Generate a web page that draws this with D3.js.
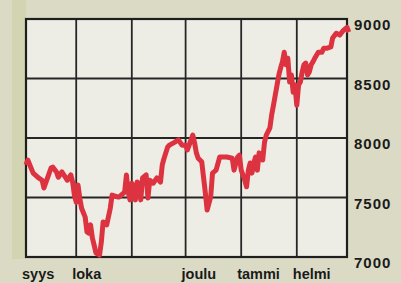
<!DOCTYPE html>
<html>
<head>
<meta charset="utf-8">
<script src="https://cdn.jsdelivr.net/npm/d3@7.9.0/dist/d3.min.js"></script>
<style>
  html, body { margin: 0; padding: 0; background: #dbdac5; }
  svg { display: block; }
  text { font-family: "Liberation Sans", Arial, sans-serif; font-weight: bold; fill: #1a1a1a; }
</style>
</head>
<body>
<svg width="401" height="283"></svg>
<script>
// index, daily close (days counted from 1 Sep)
const startDate = new Date(1997, 8, 1);
const days = [
  2, 3, 6, 9, 11, 12, 14, 16, 17, 19, 20, 22, 24, 25, 27, 28, 29, 30, 31, 32,
  33, 35, 36, 37, 38, 39, 40, 41, 43, 44, 45, 47, 49, 50, 53, 54, 57, 58, 59, 60,
  61, 62, 63, 64, 65, 66, 67, 69, 70, 71, 73, 75, 77, 78, 79, 81, 82, 85, 87, 89,
  91, 92, 95, 96, 97, 98, 100, 101, 102, 103, 105, 106, 108, 110, 114, 117, 118, 120, 121, 122,
  124, 125, 126, 127, 128, 129, 130, 131, 132, 134, 135, 136, 138, 139, 140, 141, 142, 143, 144, 145,
  146, 147, 148, 149, 150, 151, 152, 153, 154, 155, 156, 157, 158, 159, 160, 161, 162, 163, 165, 167,
  168, 170, 172, 173, 175, 177, 179, 181, 182
];
const values = [
  7775, 7815, 7705, 7665, 7645, 7580, 7665, 7750, 7755, 7715, 7670, 7715, 7670, 7645, 7690, 7630, 7520, 7460, 7605, 7495,
  7410, 7335, 7210, 7200, 7270, 7160, 7100, 7035, 7015, 7125, 7295, 7270, 7410, 7520, 7505, 7505, 7545, 7690, 7545, 7480,
  7620, 7590, 7480, 7630, 7620, 7480, 7665, 7690, 7495, 7645, 7620, 7665, 7630, 7775, 7830, 7925, 7940, 7965, 7985, 7940,
  7940, 7900, 8025, 7960, 7875, 7830, 7800, 7670, 7540, 7395, 7505, 7705, 7730, 7840, 7840, 7830, 7730, 7840, 7855, 7730,
  7645, 7590, 7730, 7790, 7705, 7790, 7840, 7730, 7875, 7815, 7965, 8025, 8085, 8195, 8275, 8360, 8445, 8530, 8590, 8640,
  8720, 8615, 8670, 8470, 8530, 8385, 8445, 8275, 8445, 8470, 8555, 8615, 8630, 8530, 8555, 8615, 8640, 8670, 8720, 8720,
  8755, 8755, 8765, 8840, 8880, 8865, 8905, 8930, 8890
];
const monthLabels = ["syys", "loka", "", "joulu", "tammi", "helmi"];
const yTicks = [7000, 7500, 8000, 8500, 9000];

const data = days.map((d, i) => ({ date: d3.timeDay.offset(startDate, d), value: values[i] }));

const svg = d3.select("svg");

const x = d3.scaleTime()
  .domain([d3.timeDay.offset(startDate, 2), new Date(1998, 2, 1)])
  .range([26, 347]);
const y = d3.scaleLinear().domain([7000, 9000]).range([257, 19]);

const [x0, x1] = x.range();
const [y0, y1] = y.range();

// paper edge band on the left
svg.append("rect")
  .attr("x", 12).attr("y", 0)
  .attr("width", x0 - 12).attr("height", y0 + 2)
  .attr("fill", "#d3d4b1");

// panel
svg.append("rect")
  .attr("x", x0).attr("y", y1)
  .attr("width", x1 - x0).attr("height", y0 - y1)
  .attr("fill", "#eeede5");

// grid
const monthStarts = d3.timeMonth.range(new Date(1997, 9, 1), new Date(1998, 1, 2));
svg.append("g")
  .selectAll("line")
  .data(monthStarts)
  .join("line")
  .attr("x1", d => x(d)).attr("x2", d => x(d))
  .attr("y1", y1).attr("y2", y0)
  .attr("stroke", "#262626").attr("stroke-width", 1.8);

svg.append("g")
  .selectAll("line")
  .data(yTicks.slice(1, -1))
  .join("line")
  .attr("x1", x0).attr("x2", x1)
  .attr("y1", d => y(d)).attr("y2", d => y(d))
  .attr("stroke", "#262626").attr("stroke-width", 1.8);

svg.append("rect")
  .attr("x", x0).attr("y", y1)
  .attr("width", x1 - x0).attr("height", y0 - y1)
  .attr("fill", "none")
  .attr("stroke", "#1e1e1e").attr("stroke-width", 2.2);

// line
const line = d3.line()
  .x(d => x(d.date))
  .y(d => y(d.value));

svg.append("path")
  .datum(data)
  .attr("d", line)
  .attr("fill", "none")
  .attr("stroke", "#dd3240")
  .attr("stroke-width", 5)
  .attr("stroke-linejoin", "round");

// y labels
svg.append("g")
  .selectAll("text")
  .data(yTicks)
  .join("text")
  .attr("x", x1 + 7)
  .attr("y", d => y(d) + 11)
  .attr("font-size", 15)
  .attr("letter-spacing", 1)
  .text(d => d);

// month labels
const labelDates = [x.domain()[0], ...monthStarts];
svg.append("g")
  .selectAll("text")
  .data(monthLabels)
  .join("text")
  .attr("x", (d, i) => x(labelDates[i]) - 4)
  .attr("y", 279)
  .attr("font-size", 14.5)
  .text(d => d);
</script>
</body>
</html>
